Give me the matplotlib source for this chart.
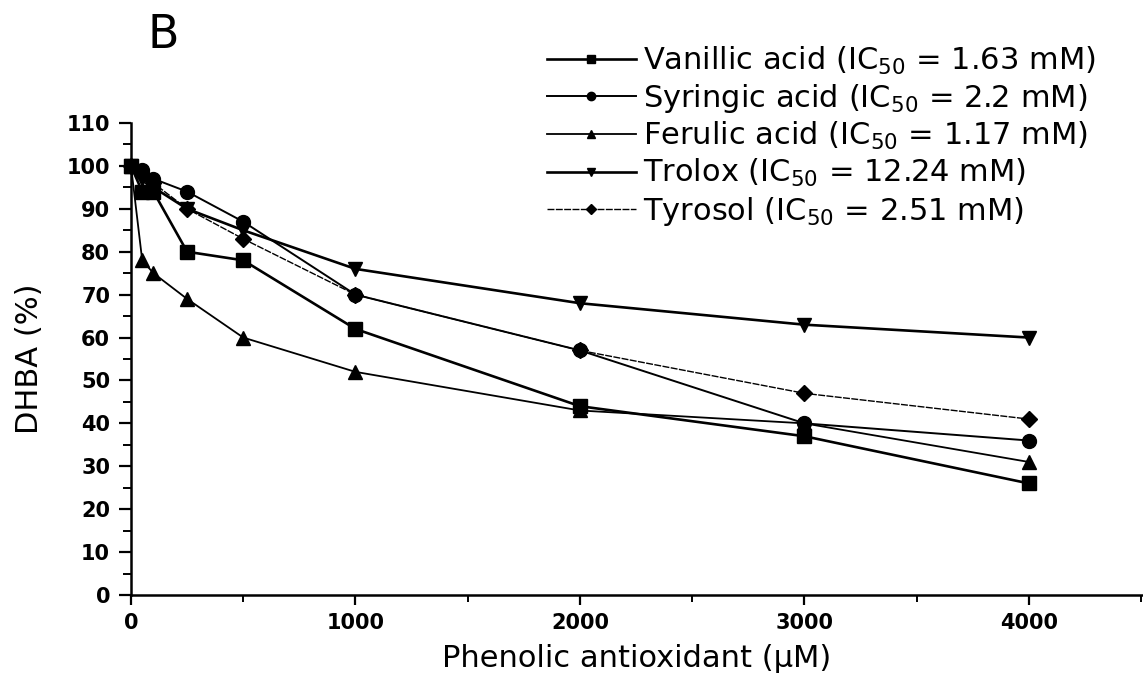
import numpy as np
import matplotlib.pyplot as plt
from matplotlib.ticker import MultipleLocator

# concentrations (uM) and remaining DHBA (%) for each antioxidant
conc = [0, 50, 100, 250, 500, 1000, 2000, 3000, 4000]

vanillic = [100, 94, 94, 80, 78, 62, 44, 37, 26]
syringic = [100, 99, 97, 94, 87, 70, 57, 40, 36]
ferulic = [100, 78, 75, 69, 60, 52, 43, 40, 31]
trolox = [100, 97, 95, 90, 85, 76, 68, 63, 60]
tyrosol = [100, 98, 96, 90, 83, 70, 57, 47, 41]

labels = ['Vanillic acid (IC$_{50}$ = 1.63 mM)',
          'Syringic acid (IC$_{50}$ = 2.2 mM)',
          'Ferulic acid (IC$_{50}$ = 1.17 mM)',
          'Trolox (IC$_{50}$ = 12.24 mM)',
          'Tyrosol (IC$_{50}$ = 2.51 mM)']

fig = plt.figure(figsize=(11.43, 6.74), dpi=100)
ax = fig.add_axes([0.1146, 0.1172, 0.8854, 0.7003])

ax.plot(conc, vanillic, '-s', color='black', lw=1.9, ms=10, clip_on=False, label=labels[0])
ax.plot(conc, syringic, '-o', color='black', lw=1.4, ms=10, clip_on=False, label=labels[1])
ax.plot(conc, ferulic, '-^', color='black', lw=1.3, ms=10, clip_on=False, label=labels[2])
ax.plot(conc, trolox, '-v', color='black', lw=1.9, ms=10, clip_on=False, label=labels[3])
ax.plot(conc, tyrosol, 'D', ls=(0, (5, 1)), color='black', lw=1.0, ms=8, clip_on=False, label=labels[4])

ax.set_xlim(0, 4508)
ax.set_ylim(0, 110)
ax.spines['top'].set_visible(False)
ax.spines['right'].set_visible(False)
ax.spines['left'].set_linewidth(1.8)
ax.spines['bottom'].set_linewidth(1.8)

ax.xaxis.set_major_locator(MultipleLocator(1000))
ax.xaxis.set_minor_locator(MultipleLocator(500))
ax.yaxis.set_major_locator(MultipleLocator(10))
ax.yaxis.set_minor_locator(MultipleLocator(5))
ax.tick_params(axis='y', which='major', direction='out', length=9, width=1.6, pad=6)
ax.tick_params(axis='y', which='minor', direction='out', length=6, width=1.4)
ax.tick_params(axis='x', which='major', direction='out', length=7, width=1.6, pad=6)
ax.tick_params(axis='x', which='minor', direction='out', length=5, width=1.4)
for t in ax.get_xticklabels() + ax.get_yticklabels():
    t.set_fontsize(15)
    t.set_fontweight('bold')

ax.set_xlabel('Phenolic antioxidant (\u00b5M)', fontsize=22, labelpad=8)
ax.set_ylabel('DHBA (%)', fontsize=22, labelpad=16)

fig.text(0.129, 0.929, 'B', fontsize=33)

fig.legend(loc='upper left', bbox_to_anchor=(0.468, 0.952), frameon=False,
           fontsize=22, handlelength=2.9, handletextpad=0.25, labelspacing=0.17,
           markerscale=0.6, borderaxespad=0)

fig.savefig('out.png', dpi=100)
